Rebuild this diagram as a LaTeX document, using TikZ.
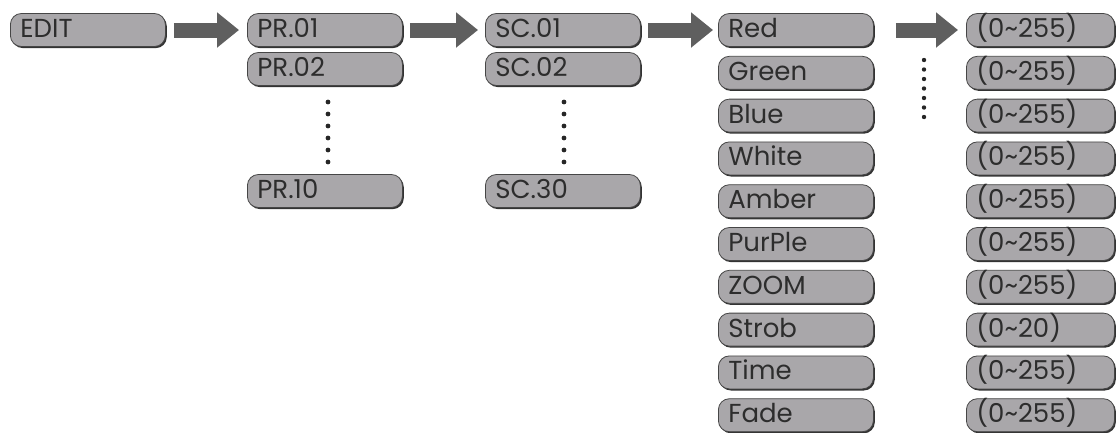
\documentclass[tikz,border=0pt]{standalone}
\usepackage{fontspec}
\setmainfont{Poppins}
\usetikzlibrary{arrows.meta,shadows}
\definecolor{boxfill}{RGB}{169,167,170}
\definecolor{boxline}{RGB}{70,70,70}
\definecolor{arrowgray}{RGB}{95,95,95}
\definecolor{textgray}{RGB}{45,45,45}
\tikzstyle{menu}=[draw=boxline,line width=0.8pt,fill=boxfill,rounded corners=11pt,
  minimum height=33pt,text width=135pt,inner xsep=10pt,inner ysep=5pt,
  text height=19pt,text depth=4pt,align=left,anchor=west,
  text=textgray,font=\fontsize{26}{30}\selectfont,
  drop shadow={shadow xshift=1.4pt,shadow yshift=-1.6pt,fill=black!80,opacity=1}]
\tikzstyle{value}=[menu,text width=128pt]
\tikzstyle{menuarrow} = [draw=arrowgray,line width=15pt,-{Triangle[length=22pt,width=34pt]}]
\tikzstyle{dot} = [fill=black!85]

\begin{document}
\begin{tikzpicture}[x=1pt,y=-1pt]
	\useasboundingbox (0,0) rectangle (1116,432);
	% First the menu boxes of the first three columns
	\node[menu] (edit) at (10,30) {EDIT};
	\foreach \y/\name/\txt in {30/pr1/PR.01, 69/pr2/PR.02, 191/pr10/PR.10}
		\node[menu] (\name) at (247,\y) {\txt};
	\foreach \y/\name/\txt in {30/sc1/SC.01, 69/sc2/SC.02, 191/sc30/SC.30}
		\node[menu] (\name) at (485,\y) {\txt};

	% Then the channels and their ranges
	\foreach \i/\txt/\range in {0/Red/255, 1/Green/255, 2/Blue/255, 3/White/255, 4/Amber/255,
			5/PurPle/255, 6/ZOOM/255, 7/Strob/20, 8/Time/255, 9/Fade/255}
	{
		\node[menu] (par\i) at (718,30+42.8*\i) {\txt};
		\node[value] (val\i) at (966,30+42.8*\i) {(0\textasciitilde\range)};
	}

	% Arrows between the columns
	\path[menuarrow,shorten <=8pt,shorten >=8pt] (edit) -- (pr1);
	\path[menuarrow,shorten <=7pt,shorten >=7pt] (pr1) -- (sc1);
	\path[menuarrow,shorten <=7pt,shorten >=5pt] (sc1) -- (par0);
	\path[menuarrow,shorten <=22pt,shorten >=8pt] (par0) -- (val0);

	% Dotted gaps
	\foreach \k in {0,...,5}
	{
		\fill[dot] (328,102+12*\k) circle (2.4pt);
		\fill[dot] (564,102+12*\k) circle (2.4pt);
	}
	\foreach \k in {0,...,6}
		\fill[dot] (924,60+9.5*\k) circle (2.2pt);
\end{tikzpicture}
\end{document}
